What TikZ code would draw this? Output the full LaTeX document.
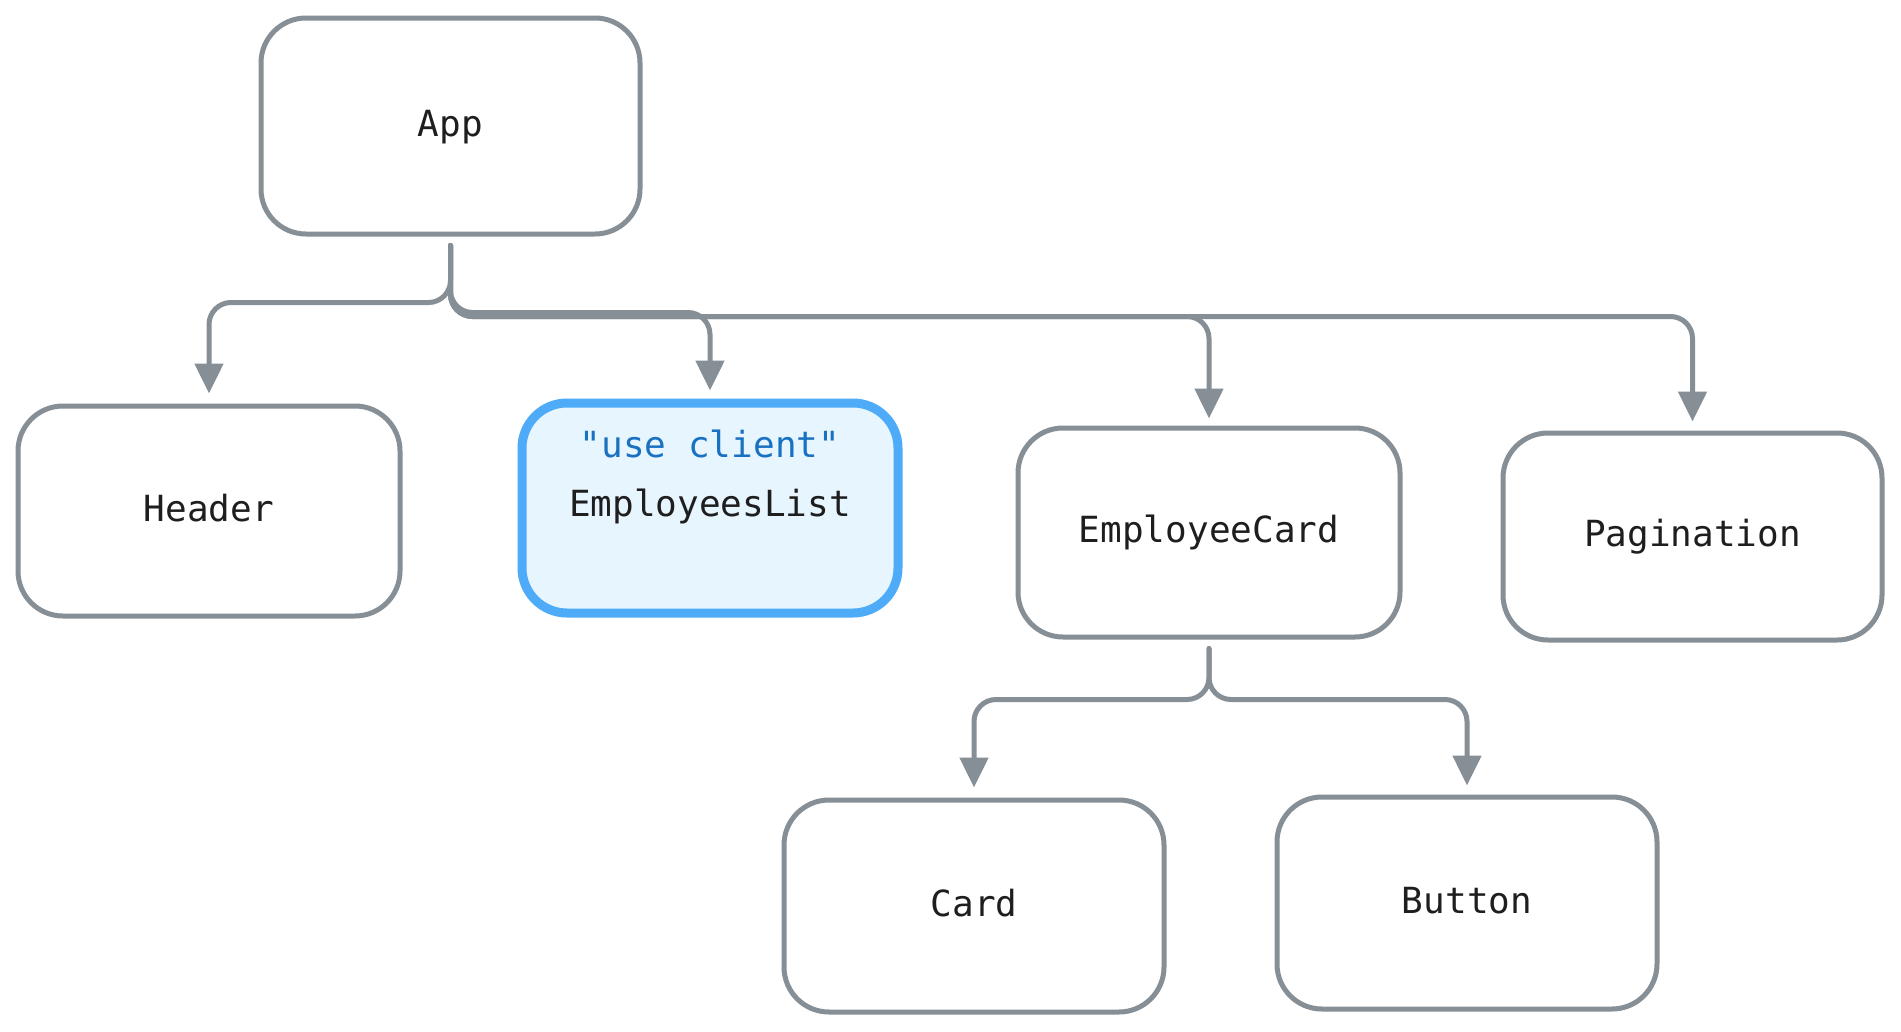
\documentclass[tikz,border=0pt]{standalone}
\usepackage{fontspec}
\newfontfamily\monofont{DejaVu Sans Mono}
\usetikzlibrary{arrows.meta}
\definecolor{edgegray}{HTML}{868E96}
\definecolor{bluestroke}{HTML}{4DABF7}
\definecolor{bluefill}{HTML}{E7F5FF}
\definecolor{bluetext}{HTML}{1971C2}
\definecolor{inkblack}{HTML}{1E1E1E}
\tikzset{
  box/.style={draw=edgegray, line width=5pt, rounded corners=45pt, fill=white,
    minimum width=380pt, minimum height=212pt, inner sep=0pt,
    font=\monofont\fontsize{36}{40}\selectfont, text=inkblack,
    text height=20pt, text depth=0pt},
  clientbox/.style={box, draw=bluestroke, fill=bluefill, line width=9pt},
  lbl/.style={font=\monofont\fontsize{36}{40}\selectfont, text=inkblack, inner sep=0pt},
  conn/.style={draw=edgegray, line width=5pt, rounded corners=22pt, line cap=round,
    -{Triangle[length=30pt,width=28pt]}}
}
\begin{document}
\begin{tikzpicture}[x=1pt,y=-1pt]
\useasboundingbox (0,0) rectangle (1901,1031);
\fill[white] (0,0) rectangle (1901,1031);

\node[box, minimum width=379pt, minimum height=216pt] (app) at (450.5,126) {App};
\node[box, minimum width=382pt, minimum height=210pt] (header) at (209,511) {Header};
\node[clientbox, minimum width=376pt, minimum height=210pt] (el) at (710,508) {};
\node[lbl, text=bluetext] (uc) at ([yshift=64pt]el.center) {"use client"};
\node[lbl] (elname) at ([yshift=2pt]el.center) {EmployeesList};
\node[box, minimum width=382pt, minimum height=209pt] (ec) at (1209,532.5) {EmployeeCard};
\node[box, minimum width=379pt, minimum height=207pt] (pag) at (1692.5,536.5) {Pagination};
\node[box, minimum width=380pt, minimum height=212pt] (card) at (974,906) {Card};
\node[box, minimum width=380pt, minimum height=212pt] (btn) at (1467,903) {Button};

\draw[conn] ([yshift=-9pt]app.south) -- ++(0,57) -| ([yshift=10pt]header.north);
\draw[conn] ([yshift=-9pt]app.south) -- ++(0,67) -| ([yshift=8pt]el.north);
\draw[conn] ([yshift=-9pt]app.south) -- ++(0,71) -| ([yshift=7pt]ec.north);
\draw[conn] ([yshift=-9pt]app.south) -- ++(0,71) -| ([yshift=9pt]pag.north);

\draw[conn] ([yshift=-9pt]ec.south) -- ++(0,51) -| ([yshift=10pt]card.north);
\draw[conn] ([yshift=-9pt]ec.south) -- ++(0,51) -| ([yshift=9pt]btn.north);
\end{tikzpicture}
\end{document}
